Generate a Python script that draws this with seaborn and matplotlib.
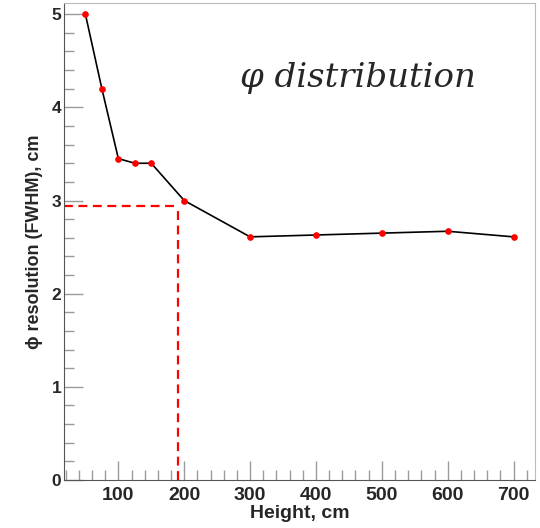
import matplotlib
matplotlib.use('Agg')
import matplotlib.pyplot as plt
import pandas as pd
import seaborn as sns
from matplotlib.ticker import MultipleLocator

# Data
heights = [50, 75, 100, 125, 150, 200, 300, 400, 500, 600, 700]
resolution = [5.0, 4.2, 3.45, 3.40, 3.40, 3.0, 2.61, 2.63, 2.65, 2.67, 2.61]
cut_height = 190
cut_resolution = 2.94

df = pd.DataFrame({'height': heights, 'resolution': resolution})

sns.set_style('ticks')
plt.rcParams['font.family'] = ['Liberation Sans', 'DejaVu Sans']

fig = plt.figure(figsize=(5.4, 5.28), dpi=100)
ax = fig.add_axes([0.1185, 0.0909, 0.8722, 0.9034])

sns.lineplot(data=df, x='height', y='resolution', ax=ax, color='black',
             linewidth=1.2, marker='o', markersize=4, markerfacecolor='red',
             markeredgecolor='red', zorder=3)

# dashed guide lines
ax.plot([17.5, cut_height], [cut_resolution, cut_resolution], color='red',
        linestyle=(0, (4, 2.5)), linewidth=1.6)
ax.plot([cut_height, cut_height], [0, cut_resolution], color='red',
        linestyle=(0, (4, 2.5)), linewidth=1.6)

ax.set_xlim(17.5, 732.5)
ax.set_ylim(0, 5.12)

ax.xaxis.set_major_locator(MultipleLocator(100))
ax.xaxis.set_minor_locator(MultipleLocator(20))
ax.yaxis.set_major_locator(MultipleLocator(1))
ax.yaxis.set_minor_locator(MultipleLocator(0.2))

ax.tick_params(which='both', direction='in', color='#9a9a9a', width=1)
ax.tick_params(which='major', length=14)
ax.tick_params(which='minor', length=7)
ax.tick_params(axis='x', which='major', labelsize=14, pad=5)
ax.tick_params(axis='y', which='major', labelsize=12.5, pad=2)
for lbl in ax.get_xticklabels() + ax.get_yticklabels():
    lbl.set_fontweight('bold')

for side in ['left', 'bottom']:
    ax.spines[side].set_color('#555555')
for side in ['top', 'right']:
    ax.spines[side].set_visible(True)
    ax.spines[side].set_color('#bbbbbb')

ax.set_xlabel('Height, cm', fontsize=14, fontweight='bold', labelpad=1)
ax.set_ylabel('\u03d5 resolution (FWHM), cm', fontsize=13, fontweight='bold',
              labelpad=6)

ax.text(0.373, 0.824, '\u03c6 distribution', transform=ax.transAxes,
        fontsize=24.5, fontstyle='italic', family=['DejaVu Serif'],
        va='baseline', ha='left')

fig.savefig('out.png', dpi=100)
